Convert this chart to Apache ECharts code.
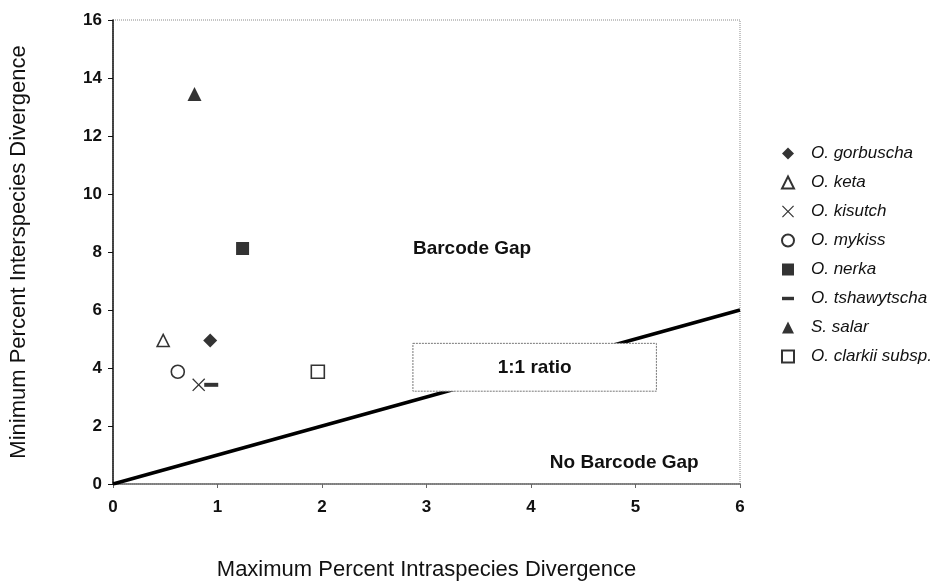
<!DOCTYPE html>
<html>
<head>
<meta charset="utf-8">
<script src="https://cdn.jsdelivr.net/npm/echarts@6/dist/echarts.min.js"></script>
<style>
  html, body { margin: 0; padding: 0; background: #fff; }
  #chart { width: 952px; height: 586px; }
</style>
</head>
<body>
<div id="chart"></div>
<script>
// Species and their divergence values (max intraspecies %, min interspecies %)
const speciesNames = [
  'O. gorbuscha', 'O. keta', 'O. kisutch', 'O. mykiss',
  'O. nerka', 'O. tshawytscha', 'S. salar', 'O. clarkii subsp.'
];
const maxIntra = [0.93, 0.48, 0.82, 0.62, 1.24, 0.94, 0.78, 1.96];
const minInter = [4.95, 4.95, 3.42, 3.87, 8.12, 3.42, 13.45, 3.87];

// 1:1 reference line end points
const ratioLineX = [0, 6];
const ratioLineY = [0, 6];

// Axis ranges
const xTicks = { min: 0, max: 6, interval: 1 };
const yTicks = { min: 0, max: 16, interval: 2 };

const FONT = 'Liberation Sans, Arial, Helvetica, sans-serif';

const crossPath = 'path://M1,0 L7,6 L13,0 L14,1 L8,7 L14,13 L13,14 L7,8 L1,14 L0,13 L6,7 L0,1 Z';
const dashPath = 'path://M0,0 L14,0 L14,4 L0,4 Z';

const filled = { color: '#000', borderColor: '#000', borderWidth: 0 };
const hollow = { color: '#fff', borderColor: '#000', borderWidth: 1.6 };

const markerStyles = [
  { symbol: 'diamond', size: 14, style: filled },
  { symbol: 'triangle', size: 12, style: hollow },
  { symbol: crossPath, size: 13, style: filled },
  { symbol: 'circle', size: 13, style: hollow },
  { symbol: 'rect', size: 13, style: filled },
  { symbol: dashPath, size: [14, 4], style: filled },
  { symbol: 'triangle', size: 14, style: filled },
  { symbol: 'rect', size: 13, style: hollow }
];

const scatterSeries = speciesNames.map((name, i) => ({
  name: name,
  type: 'scatter',
  data: [[maxIntra[i], minInter[i]]],
  symbol: markerStyles[i].symbol,
  symbolSize: markerStyles[i].size,
  itemStyle: markerStyles[i].style,
  z: 5
}));

const legendIcons = [
  'diamond', 'triangle', crossPath, 'circle', 'rect', dashPath, 'triangle', 'rect'
];

const chart = echarts.init(document.getElementById('chart'), null, { renderer: 'canvas' });

const option = {
  animation: false,
  backgroundColor: '#fff',
  textStyle: { fontFamily: FONT },
  grid: {
    left: 113, right: 212, top: 20, bottom: 102,
    containLabel: false,
    outerBoundsMode: 'none',
    show: true,
    borderColor: '#8a8a8a',
    borderWidth: 1,
    borderType: 'dotted'
  },
  legend: {
    orient: 'vertical',
    left: 776,
    top: 140,
    itemWidth: 12,
    itemHeight: 12,
    itemGap: 12,
    textStyle: {
      fontFamily: FONT, fontSize: 17, fontStyle: 'italic', color: '#111',
      padding: [0, 0, 0, 12]
    },
    data: speciesNames.map((n, i) => ({ name: n, icon: legendIcons[i] }))
  },
  xAxis: {
    type: 'value',
    min: xTicks.min, max: xTicks.max, interval: xTicks.interval,
    name: 'Maximum Percent Intraspecies Divergence',
    nameLocation: 'middle',
    nameGap: 75,
    nameTextStyle: { fontFamily: FONT, fontSize: 22, color: '#111' },
    axisLine: { show: true, lineStyle: { color: '#666', width: 1.5 } },
    axisTick: { show: true, length: 4, lineStyle: { color: '#666' } },
    axisLabel: { margin: 15, fontFamily: FONT, fontSize: 17, fontWeight: 'bold', color: '#111' },
    splitLine: { show: false }
  },
  yAxis: {
    type: 'value',
    min: yTicks.min, max: yTicks.max, interval: yTicks.interval,
    name: 'Minimum Percent Interspecies Divergence',
    nameLocation: 'middle',
    nameGap: 83,
    nameTextStyle: { fontFamily: FONT, fontSize: 22, color: '#111' },
    axisLine: { show: true, lineStyle: { color: '#111', width: 1.5 } },
    axisTick: { show: true, length: 5, lineStyle: { color: '#111' } },
    axisLabel: { margin: 11, fontFamily: FONT, fontSize: 17, fontWeight: 'bold', color: '#111' },
    splitLine: { show: false }
  },
  series: [
    {
      name: '1:1',
      type: 'line',
      data: ratioLineX.map((x, i) => [x, ratioLineY[i]]),
      symbol: 'none',
      lineStyle: { color: '#000', width: 3.5 },
      z: 3,
      silent: true
    }
  ].concat(scatterSeries)
};

chart.setOption(option);

// Annotations placed in data coordinates
function px(x, y) { return chart.convertToPixel({ gridIndex: 0 }, [x, y]); }

const boxTL = px(2.87, 4.85);
const boxBR = px(5.2, 3.2);
const gapLabel = px(2.87, 8.1);
const noGapLabel = px(4.18, 0.72);

chart.setOption({
  graphic: [
    {
      type: 'rect',
      z: 10,
      shape: { x: boxTL[0], y: boxTL[1], width: boxBR[0] - boxTL[0], height: boxBR[1] - boxTL[1] },
      style: { fill: '#fff', stroke: '#777', lineWidth: 1, lineDash: [2, 1] }
    },
    {
      type: 'text',
      z: 11,
      x: (boxTL[0] + boxBR[0]) / 2,
      y: (boxTL[1] + boxBR[1]) / 2,
      style: {
        text: '1:1 ratio', fontFamily: FONT, fontSize: 19, fontWeight: 'bold',
        fill: '#111', align: 'center', verticalAlign: 'middle'
      }
    },
    {
      type: 'text',
      z: 11,
      x: gapLabel[0],
      y: gapLabel[1],
      style: {
        text: 'Barcode Gap', fontFamily: FONT, fontSize: 19, fontWeight: 'bold',
        fill: '#111', align: 'left', verticalAlign: 'middle'
      }
    },
    {
      type: 'text',
      z: 11,
      x: noGapLabel[0],
      y: noGapLabel[1],
      style: {
        text: 'No Barcode Gap', fontFamily: FONT, fontSize: 19, fontWeight: 'bold',
        fill: '#111', align: 'left', verticalAlign: 'middle'
      }
    }
  ]
});
</script>
</body>
</html>
